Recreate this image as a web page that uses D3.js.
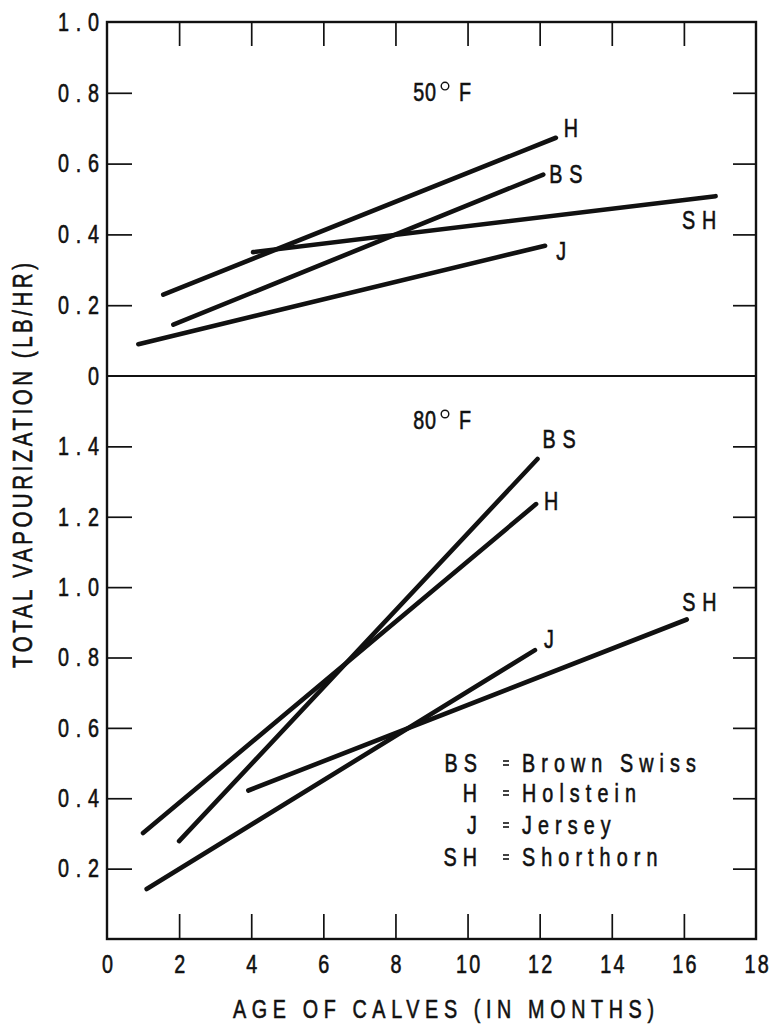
<!DOCTYPE html>
<html>
<head>
<meta charset="utf-8">
<script src="https://cdn.jsdelivr.net/npm/d3@7"></script>
<style>
  html, body { margin: 0; padding: 0; background: #fff; }
  svg { display: block; }
  text { font-family: "Liberation Sans", Arial, sans-serif; fill: #111; stroke: #111; stroke-width: 0.6px; }
</style>
</head>
<body>
<svg id="chart" width="774" height="1025"></svg>
<script>
// ---------- data ----------
const ageTicks = [0, 2, 4, 6, 8, 10, 12, 14, 16, 18];
const innerAgeTicks = [2, 4, 6, 8, 10, 12, 14, 16];
const topTickValues = [0, 0.2, 0.4, 0.6, 0.8, 1.0];
const topTickLabels = ["0", "0.2", "0.4", "0.6", "0.8", "1.0"];
const bottomTickValues = [0, 0.2, 0.4, 0.6, 0.8, 1.0, 1.2, 1.4];
const bottomTickLabels = ["0", "0.2", "0.4", "0.6", "0.8", "1.0", "1.2", "1.4"];

const breeds = ["BS", "H", "J", "SH"];
const breedNames = ["Brown Swiss", "Holstein", "Jersey", "Shorthorn"];

// 50°F panel: [age, vapourization] start & end of each fitted line
const top50_BS = [[1.84, 0.145], [12.10, 0.569]];
const top50_H  = [[1.56, 0.230], [12.45, 0.673]];
const top50_J  = [[0.87, 0.090], [12.15, 0.368]];
const top50_SH = [[4.05, 0.350], [16.88, 0.508]];

// 80°F panel
const bot80_BS = [[2.00, 0.278], [11.94, 1.364]];
const bot80_H  = [[1.00, 0.301], [11.90, 1.236]];
const bot80_J  = [[1.10, 0.142], [11.87, 0.821]];
const bot80_SH = [[3.92, 0.422], [16.08, 0.908]];

// ---------- layout ----------
const svg = d3.select("#chart");
const L = 107, R = 756, T = 22, MID = 376, B = 939;

const x = d3.scaleLinear().domain([0, 18]).range([L, R]);
const yTop = d3.scaleLinear().domain([0, 1.0]).range([MID, T]);
const yBot = d3.scaleLinear().domain([0, 1.6]).range([B, MID]);

const FS = 26;     // font size
const SX = 0.76;   // horizontal condensing of the typeface

// generic condensed text helper
function ctext(parent, cx, cy, str, o = {}) {
  const g = parent.append("g").attr("transform", `translate(${cx},${cy})` + (o.rotate ? ` rotate(${o.rotate})` : ""));
  const t = g.append("text")
    .attr("transform", `scale(${o.sx || SX},1)`)
    .attr("text-anchor", o.anchor || "middle")
    .attr("dominant-baseline", "central")
    .attr("font-size", o.fs || FS)
    .attr("letter-spacing", o.ls || 0)
    .text(str);
  if (o.len) t.attr("textLength", o.len / (o.sx || SX)).attr("lengthAdjust", "spacing");
  return t;
}

// frame
svg.append("rect").attr("x", L).attr("y", T).attr("width", R - L).attr("height", B - T)
  .attr("fill", "none").attr("stroke", "#111").attr("stroke-width", 2.4);
svg.append("line").attr("x1", L).attr("x2", R).attr("y1", MID).attr("y2", MID)
  .attr("stroke", "#111").attr("stroke-width", 2);

function styleAxis(g, pad, ls) {
  g.select(".domain").remove();
  g.selectAll(".tick line").attr("stroke", "#111").attr("stroke-width", 1.7);
  g.selectAll(".tick text").attr("font-size", FS).attr("letter-spacing", ls || 0)
    .attr("fill", "#111").attr("font-family", null)
    .attr("transform", `scale(${SX},1)`);
  if (pad !== undefined) g.selectAll(".tick text").attr("x", -pad / SX);
}

const TLS = 9; // tick-label letter spacing (unscaled)
// left axes (inward ticks)
const leftTop = svg.append("g").attr("transform", `translate(${L},0)`)
  .call(d3.axisLeft(yTop).tickValues(topTickValues).tickSize(-25)
    .tickFormat((d, i) => topTickLabels[i]));
styleAxis(leftTop, 8 - TLS * SX, TLS);
leftTop.selectAll(".tick").filter(d => d === 0 || d === 1.0).select("line").remove();

const leftBot = svg.append("g").attr("transform", `translate(${L},0)`)
  .call(d3.axisLeft(yBot).tickValues(bottomTickValues).tickSize(-25)
    .tickFormat((d, i) => bottomTickLabels[i]));
styleAxis(leftBot, 8 - TLS * SX, TLS);
leftBot.selectAll(".tick").filter(d => d === 0).remove();

// right axes (inward ticks, no labels)
const rightTop = svg.append("g").attr("transform", `translate(${R},0)`)
  .call(d3.axisRight(yTop).tickValues(topTickValues.filter(v => v > 0 && v < 1)).tickSize(-23).tickFormat(""));
styleAxis(rightTop);
const rightBot = svg.append("g").attr("transform", `translate(${R},0)`)
  .call(d3.axisRight(yBot).tickValues(bottomTickValues.filter(v => v > 0)).tickSize(-23).tickFormat(""));
styleAxis(rightBot);

// top axis ticks
const topAx = svg.append("g").attr("transform", `translate(0,${T})`)
  .call(d3.axisTop(x).tickValues(innerAgeTicks).tickSize(-24).tickFormat(""));
styleAxis(topAx);

// bottom axis
const botAx = svg.append("g").attr("transform", `translate(0,${B})`)
  .call(d3.axisBottom(x).tickValues(ageTicks).tickSize(-25).tickPadding(16));
styleAxis(botAx);
botAx.selectAll(".tick").filter(d => d === 0 || d === 18).select("line").remove();
botAx.selectAll(".tick text").attr("dy", "0.71em").attr("letter-spacing", 3).attr("x", 1.5);

// lines
const lineGen = (ys) => d3.line().x(d => x(d[0])).y(d => ys(d[1]));
const topSeries = [top50_BS, top50_H, top50_J, top50_SH];
const botSeries = [bot80_BS, bot80_H, bot80_J, bot80_SH];
svg.append("g").selectAll("path").data(topSeries).join("path")
  .attr("d", d => lineGen(yTop)(d))
  .attr("fill", "none").attr("stroke", "#111").attr("stroke-width", 4.6).attr("stroke-linecap", "round");
svg.append("g").selectAll("path").data(botSeries).join("path")
  .attr("d", d => lineGen(yBot)(d))
  .attr("fill", "none").attr("stroke", "#111").attr("stroke-width", 4.6).attr("stroke-linecap", "round");

// series labels (placed near line ends)
// top panel
ctext(svg, x(top50_H[1][0]) + 15, yTop(top50_H[1][1]) - 10, "H");
ctext(svg, x(top50_BS[1][0]) + 26, yTop(top50_BS[1][1]) - 1, "BS", { ls: 9 });
ctext(svg, x(top50_SH[1][0]) - 13, yTop(top50_SH[1][1]) + 24, "SH", { ls: 9 });
ctext(svg, x(top50_J[1][0]) + 16, yTop(top50_J[1][1]) + 5, "J");
// bottom panel
ctext(svg, x(bot80_BS[1][0]) + 25, yBot(bot80_BS[1][1]) - 20, "BS", { ls: 9 });
ctext(svg, x(bot80_H[1][0]) + 15, yBot(bot80_H[1][1]) - 3, "H");
ctext(svg, x(bot80_SH[1][0]) + 16, yBot(bot80_SH[1][1]) - 18, "SH", { ls: 9 });
ctext(svg, x(bot80_J[1][0]) + 14, yBot(bot80_J[1][1]) - 11, "J");

// temperature labels
function tempLab(num, y) {
  ctext(svg, 425, y, num, { ls: 1 });
  svg.append("circle").attr("cx", 445).attr("cy", y - 6).attr("r", 3.8)
    .attr("fill", "none").attr("stroke", "#111").attr("stroke-width", 1.4);
  ctext(svg, 465, y, "F");
}
tempLab("50", yTop(0.802));
tempLab("80", yBot(1.475));

// legend
const legY = [763, 793, 825, 857];
breeds.forEach((b, i) => {
  ctext(svg, 477 + 8 * SX, legY[i], b, { anchor: "end", ls: 8 });
  svg.append("line").attr("x1", 503).attr("x2", 509).attr("y1", legY[i] - 2).attr("y2", legY[i] - 2)
    .attr("stroke", "#111").attr("stroke-width", 1.6);
  svg.append("line").attr("x1", 503).attr("x2", 509).attr("y1", legY[i] + 2).attr("y2", legY[i] + 2)
    .attr("stroke", "#111").attr("stroke-width", 1.6);
  ctext(svg, 522, legY[i], breedNames[i], { anchor: "start", ls: 8 });
});

// axis titles
ctext(svg, 443.5, 1009, "AGE OF CALVES (IN MONTHS)", { fs: 26, len: 421 });
ctext(svg, 22, 465.5, "TOTAL VAPOURIZATION (LB/HR)", { fs: 27, len: 405, rotate: -90 });
</script>
</body>
</html>
